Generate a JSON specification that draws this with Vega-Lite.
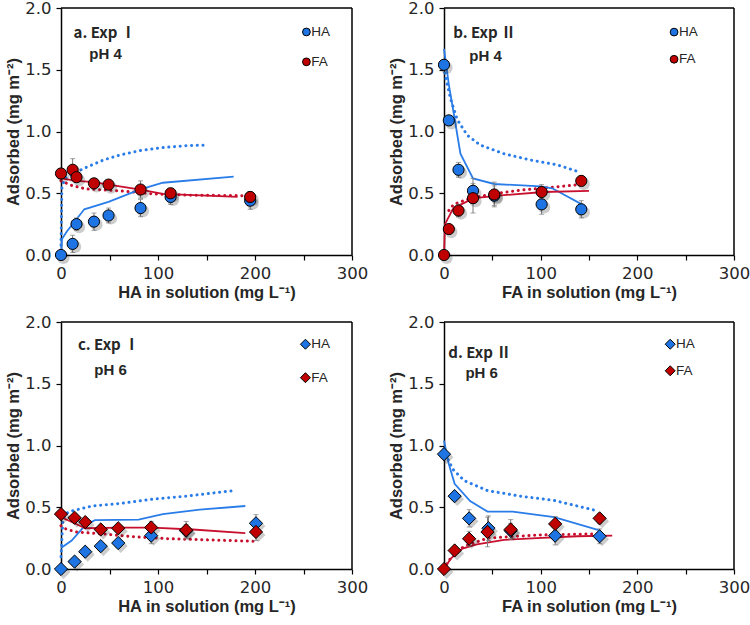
{
  "$schema": "https://vega.github.io/schema/vega-lite/v6.json",
  "datasets": {
    "pts": [
      {"p":"a","s":"HA","x":0,"y":0,"e":0},
      {"p":"a","s":"HA","x":12,"y":0.09,"e":0.07},
      {"p":"a","s":"HA","x":16,"y":0.25,"e":0.05},
      {"p":"a","s":"HA","x":34,"y":0.27,"e":0.07},
      {"p":"a","s":"HA","x":49,"y":0.32,"e":0.06},
      {"p":"a","s":"HA","x":82,"y":0.38,"e":0.07},
      {"p":"a","s":"HA","x":113,"y":0.47,"e":0.06},
      {"p":"a","s":"HA","x":195,"y":0.44,"e":0.07},
      {"p":"a","s":"FA","x":0,"y":0.66,"e":0.04},
      {"p":"a","s":"FA","x":12,"y":0.69,"e":0.09},
      {"p":"a","s":"FA","x":16,"y":0.63,"e":0.04},
      {"p":"a","s":"FA","x":34,"y":0.58,"e":0.03},
      {"p":"a","s":"FA","x":49,"y":0.57,"e":0.03},
      {"p":"a","s":"FA","x":82,"y":0.53,"e":0.07},
      {"p":"a","s":"FA","x":113,"y":0.50,"e":0.04},
      {"p":"a","s":"FA","x":195,"y":0.47,"e":0.04},
      {"p":"b","s":"HA","x":0,"y":1.54,"e":0.03},
      {"p":"b","s":"HA","x":5,"y":1.09,"e":0.03},
      {"p":"b","s":"HA","x":15,"y":0.69,"e":0.06},
      {"p":"b","s":"HA","x":30,"y":0.52,"e":0.1},
      {"p":"b","s":"HA","x":52,"y":0.48,"e":0.08},
      {"p":"b","s":"HA","x":101,"y":0.41,"e":0.08},
      {"p":"b","s":"HA","x":142,"y":0.37,"e":0.07},
      {"p":"b","s":"FA","x":0,"y":0,"e":0},
      {"p":"b","s":"FA","x":5,"y":0.21,"e":0.03},
      {"p":"b","s":"FA","x":15,"y":0.36,"e":0.05},
      {"p":"b","s":"FA","x":30,"y":0.46,"e":0.12},
      {"p":"b","s":"FA","x":52,"y":0.49,"e":0.1},
      {"p":"b","s":"FA","x":101,"y":0.51,"e":0.06},
      {"p":"b","s":"FA","x":142,"y":0.60,"e":0.04},
      {"p":"c","s":"HA","x":0,"y":0,"e":0},
      {"p":"c","s":"HA","x":14,"y":0.06,"e":0.02},
      {"p":"c","s":"HA","x":25,"y":0.14,"e":0.03},
      {"p":"c","s":"HA","x":41,"y":0.185,"e":0.03},
      {"p":"c","s":"HA","x":59,"y":0.21,"e":0.03},
      {"p":"c","s":"HA","x":93,"y":0.27,"e":0.065},
      {"p":"c","s":"HA","x":129,"y":0.31,"e":0.05},
      {"p":"c","s":"HA","x":201,"y":0.37,"e":0.07},
      {"p":"c","s":"FA","x":0,"y":0.445,"e":0.03},
      {"p":"c","s":"FA","x":14,"y":0.415,"e":0.03},
      {"p":"c","s":"FA","x":25,"y":0.38,"e":0.03},
      {"p":"c","s":"FA","x":41,"y":0.32,"e":0.03},
      {"p":"c","s":"FA","x":59,"y":0.33,"e":0.03},
      {"p":"c","s":"FA","x":93,"y":0.336,"e":0.05},
      {"p":"c","s":"FA","x":129,"y":0.315,"e":0.07},
      {"p":"c","s":"FA","x":201,"y":0.30,"e":0.07},
      {"p":"d","s":"HA","x":0,"y":0.93,"e":0.03},
      {"p":"d","s":"HA","x":11,"y":0.59,"e":0.03},
      {"p":"d","s":"HA","x":26,"y":0.41,"e":0.07},
      {"p":"d","s":"HA","x":46,"y":0.33,"e":0.1},
      {"p":"d","s":"HA","x":69,"y":0.31,"e":0.06},
      {"p":"d","s":"HA","x":115,"y":0.27,"e":0.075},
      {"p":"d","s":"HA","x":161,"y":0.265,"e":0.06},
      {"p":"d","s":"FA","x":0,"y":0,"e":0},
      {"p":"d","s":"FA","x":11,"y":0.15,"e":0.03},
      {"p":"d","s":"FA","x":26,"y":0.245,"e":0.06},
      {"p":"d","s":"FA","x":45,"y":0.30,"e":0.12},
      {"p":"d","s":"FA","x":69,"y":0.32,"e":0.08},
      {"p":"d","s":"FA","x":115,"y":0.365,"e":0.06},
      {"p":"d","s":"FA","x":161,"y":0.41,"e":0.04}
    ],
    "lines": [
      {"p":"a","s":"HA","k":"solid","x":0,"y":0},
      {"p":"a","s":"HA","k":"solid","x":1,"y":0.13},
      {"p":"a","s":"HA","k":"solid","x":6,"y":0.19},
      {"p":"a","s":"HA","k":"solid","x":16,"y":0.29},
      {"p":"a","s":"HA","k":"solid","x":24,"y":0.37},
      {"p":"a","s":"HA","k":"solid","x":49,"y":0.43},
      {"p":"a","s":"HA","k":"solid","x":81,"y":0.53},
      {"p":"a","s":"HA","k":"solid","x":105,"y":0.585},
      {"p":"a","s":"HA","k":"solid","x":178,"y":0.635},
      {"p":"a","s":"HA","k":"dotted","x":0,"y":0.08},
      {"p":"a","s":"HA","k":"dotted","x":1,"y":0.55},
      {"p":"a","s":"HA","k":"dotted","x":4,"y":0.62},
      {"p":"a","s":"HA","k":"dotted","x":23,"y":0.70},
      {"p":"a","s":"HA","k":"dotted","x":44,"y":0.77},
      {"p":"a","s":"HA","k":"dotted","x":61,"y":0.81},
      {"p":"a","s":"HA","k":"dotted","x":81,"y":0.845},
      {"p":"a","s":"HA","k":"dotted","x":105,"y":0.87},
      {"p":"a","s":"HA","k":"dotted","x":129,"y":0.885},
      {"p":"a","s":"HA","k":"dotted","x":150,"y":0.89},
      {"p":"a","s":"FA","k":"solid","x":0,"y":0.62},
      {"p":"a","s":"FA","k":"solid","x":16,"y":0.60},
      {"p":"a","s":"FA","k":"solid","x":34,"y":0.59},
      {"p":"a","s":"FA","k":"solid","x":49,"y":0.57},
      {"p":"a","s":"FA","k":"solid","x":82,"y":0.53},
      {"p":"a","s":"FA","k":"solid","x":105,"y":0.495},
      {"p":"a","s":"FA","k":"solid","x":182,"y":0.47},
      {"p":"a","s":"FA","k":"dotted","x":0,"y":0.60},
      {"p":"a","s":"FA","k":"dotted","x":12,"y":0.56},
      {"p":"a","s":"FA","k":"dotted","x":26,"y":0.535},
      {"p":"a","s":"FA","k":"dotted","x":60,"y":0.52},
      {"p":"a","s":"FA","k":"dotted","x":95,"y":0.495},
      {"p":"a","s":"FA","k":"dotted","x":130,"y":0.485},
      {"p":"a","s":"FA","k":"dotted","x":194,"y":0.48},
      {"p":"b","s":"HA","k":"solid","x":0,"y":1.67},
      {"p":"b","s":"HA","k":"solid","x":5,"y":1.38},
      {"p":"b","s":"HA","k":"solid","x":10,"y":1.15},
      {"p":"b","s":"HA","k":"solid","x":17,"y":0.82},
      {"p":"b","s":"HA","k":"solid","x":30,"y":0.62},
      {"p":"b","s":"HA","k":"solid","x":52,"y":0.575},
      {"p":"b","s":"HA","k":"solid","x":100,"y":0.555},
      {"p":"b","s":"HA","k":"solid","x":112,"y":0.54},
      {"p":"b","s":"HA","k":"solid","x":145,"y":0.40},
      {"p":"b","s":"HA","k":"dotted","x":0,"y":1.52},
      {"p":"b","s":"HA","k":"dotted","x":1.4,"y":1.45},
      {"p":"b","s":"HA","k":"dotted","x":6.6,"y":1.27},
      {"p":"b","s":"HA","k":"dotted","x":13.5,"y":1.10},
      {"p":"b","s":"HA","k":"dotted","x":24,"y":0.97},
      {"p":"b","s":"HA","k":"dotted","x":37.5,"y":0.89},
      {"p":"b","s":"HA","k":"dotted","x":62,"y":0.82},
      {"p":"b","s":"HA","k":"dotted","x":89,"y":0.77},
      {"p":"b","s":"HA","k":"dotted","x":117,"y":0.73},
      {"p":"b","s":"HA","k":"dotted","x":141,"y":0.67},
      {"p":"b","s":"FA","k":"solid","x":0,"y":0},
      {"p":"b","s":"FA","k":"solid","x":1,"y":0.25},
      {"p":"b","s":"FA","k":"solid","x":9,"y":0.37},
      {"p":"b","s":"FA","k":"solid","x":15,"y":0.40},
      {"p":"b","s":"FA","k":"solid","x":31,"y":0.46},
      {"p":"b","s":"FA","k":"solid","x":62,"y":0.485},
      {"p":"b","s":"FA","k":"solid","x":103,"y":0.51},
      {"p":"b","s":"FA","k":"solid","x":150,"y":0.52},
      {"p":"b","s":"FA","k":"dotted","x":5,"y":0.36},
      {"p":"b","s":"FA","k":"dotted","x":10,"y":0.41},
      {"p":"b","s":"FA","k":"dotted","x":24,"y":0.45},
      {"p":"b","s":"FA","k":"dotted","x":47,"y":0.49},
      {"p":"b","s":"FA","k":"dotted","x":79,"y":0.525},
      {"p":"b","s":"FA","k":"dotted","x":107,"y":0.545},
      {"p":"b","s":"FA","k":"dotted","x":140,"y":0.57},
      {"p":"c","s":"HA","k":"solid","x":0,"y":0.17},
      {"p":"c","s":"HA","k":"solid","x":11,"y":0.23},
      {"p":"c","s":"HA","k":"solid","x":25,"y":0.355},
      {"p":"c","s":"HA","k":"solid","x":35,"y":0.395},
      {"p":"c","s":"HA","k":"solid","x":80,"y":0.40},
      {"p":"c","s":"HA","k":"solid","x":105,"y":0.445},
      {"p":"c","s":"HA","k":"solid","x":143,"y":0.48},
      {"p":"c","s":"HA","k":"solid","x":190,"y":0.51},
      {"p":"c","s":"HA","k":"dotted","x":0,"y":0.1},
      {"p":"c","s":"HA","k":"dotted","x":2,"y":0.40},
      {"p":"c","s":"HA","k":"dotted","x":5,"y":0.45},
      {"p":"c","s":"HA","k":"dotted","x":11,"y":0.47},
      {"p":"c","s":"HA","k":"dotted","x":32,"y":0.51},
      {"p":"c","s":"HA","k":"dotted","x":60,"y":0.53},
      {"p":"c","s":"HA","k":"dotted","x":94,"y":0.565},
      {"p":"c","s":"HA","k":"dotted","x":129,"y":0.59},
      {"p":"c","s":"HA","k":"dotted","x":178,"y":0.635},
      {"p":"c","s":"FA","k":"solid","x":0,"y":0.42},
      {"p":"c","s":"FA","k":"solid","x":14,"y":0.37},
      {"p":"c","s":"FA","k":"solid","x":25,"y":0.33},
      {"p":"c","s":"FA","k":"solid","x":60,"y":0.335},
      {"p":"c","s":"FA","k":"solid","x":94,"y":0.335},
      {"p":"c","s":"FA","k":"solid","x":136,"y":0.32},
      {"p":"c","s":"FA","k":"solid","x":190,"y":0.29},
      {"p":"c","s":"FA","k":"dotted","x":0,"y":0.35},
      {"p":"c","s":"FA","k":"dotted","x":3,"y":0.33},
      {"p":"c","s":"FA","k":"dotted","x":15,"y":0.30},
      {"p":"c","s":"FA","k":"dotted","x":42,"y":0.285},
      {"p":"c","s":"FA","k":"dotted","x":77,"y":0.26},
      {"p":"c","s":"FA","k":"dotted","x":112,"y":0.245},
      {"p":"c","s":"FA","k":"dotted","x":146,"y":0.237},
      {"p":"c","s":"FA","k":"dotted","x":198,"y":0.225},
      {"p":"d","s":"HA","k":"solid","x":0,"y":1.04},
      {"p":"d","s":"HA","k":"solid","x":5,"y":0.85},
      {"p":"d","s":"HA","k":"solid","x":11,"y":0.69},
      {"p":"d","s":"HA","k":"solid","x":27,"y":0.55},
      {"p":"d","s":"HA","k":"solid","x":45,"y":0.465},
      {"p":"d","s":"HA","k":"solid","x":71,"y":0.465},
      {"p":"d","s":"HA","k":"solid","x":114,"y":0.42},
      {"p":"d","s":"HA","k":"solid","x":160,"y":0.315},
      {"p":"d","s":"HA","k":"dotted","x":0,"y":0.97},
      {"p":"d","s":"HA","k":"dotted","x":5,"y":0.87},
      {"p":"d","s":"HA","k":"dotted","x":10,"y":0.80},
      {"p":"d","s":"HA","k":"dotted","x":21,"y":0.715},
      {"p":"d","s":"HA","k":"dotted","x":45,"y":0.635},
      {"p":"d","s":"HA","k":"dotted","x":79,"y":0.59},
      {"p":"d","s":"HA","k":"dotted","x":114,"y":0.555},
      {"p":"d","s":"HA","k":"dotted","x":159,"y":0.47},
      {"p":"d","s":"FA","k":"solid","x":0,"y":0},
      {"p":"d","s":"FA","k":"solid","x":7,"y":0.085},
      {"p":"d","s":"FA","k":"solid","x":19,"y":0.165},
      {"p":"d","s":"FA","k":"solid","x":34,"y":0.20},
      {"p":"d","s":"FA","k":"solid","x":62,"y":0.236},
      {"p":"d","s":"FA","k":"solid","x":96,"y":0.25},
      {"p":"d","s":"FA","k":"solid","x":138,"y":0.265},
      {"p":"d","s":"FA","k":"solid","x":174,"y":0.27},
      {"p":"d","s":"FA","k":"dotted","x":0,"y":0},
      {"p":"d","s":"FA","k":"dotted","x":5,"y":0.07},
      {"p":"d","s":"FA","k":"dotted","x":20,"y":0.18},
      {"p":"d","s":"FA","k":"dotted","x":45,"y":0.25},
      {"p":"d","s":"FA","k":"dotted","x":97,"y":0.275},
      {"p":"d","s":"FA","k":"dotted","x":160,"y":0.285}
    ],
    "key": [{"k": 1}]
  },
  "columns": 2,
  "bounds": "flush",
  "spacing": {"row": 67, "column": 92},
  "padding": {"left": 5, "top": 0, "right": 0, "bottom": 3},
  "resolve": {"scale": {"x": "independent", "y": "independent", "fill": "independent", "stroke": "independent"}},
  "concat": [
    {
      "width": 291, "height": 247,
      "layer": [
        {"data": {"name": "lines"}, "transform": [{"filter": "datum.p === 'a' && datum.k === 'dotted'"}],
         "mark": {"type": "line", "strokeWidth": 3, "strokeDash": [0.1, 5.6], "strokeCap": "round"},
         "encoding": {"x": {"field": "x", "type": "quantitative"}, "y": {"field": "y", "type": "quantitative"},
           "stroke": {"field": "s", "type": "nominal", "scale": {"domain": ["HA", "FA"], "range": ["#2a7de8", "#c8102e"]}, "legend": null}}},
        {"data": {"name": "lines"}, "transform": [{"filter": "datum.p === 'a' && datum.k === 'solid'"}],
         "mark": {"type": "line", "strokeWidth": 1.8},
         "encoding": {"x": {"field": "x", "type": "quantitative"}, "y": {"field": "y", "type": "quantitative"},
           "stroke": {"field": "s", "type": "nominal", "scale": {"domain": ["HA", "FA"], "range": ["#2a7de8", "#c8102e"]}, "legend": null}}},
        {"data": {"name": "pts"}, "transform": [{"filter": "datum.p === 'a'"}],
         "mark": {"type": "errorbar", "ticks": true, "color": "#7a7a7a", "thickness": 1},
         "encoding": {"x": {"field": "x", "type": "quantitative", "title": "HA in solution (mg L⁻¹)"}, "y": {"field": "y", "type": "quantitative", "title": "Adsorbed (mg m⁻²)"}, "yError": {"field": "e"}}},
        {"data": {"name": "pts"}, "transform": [{"filter": "datum.p === 'a'"}],
         "mark": {"type": "point", "filled": true, "shape": "circle", "size": 150, "color": "#000000", "opacity": 0.2, "xOffset": 2.5, "yOffset": 3},
         "encoding": {"x": {"field": "x", "type": "quantitative"}, "y": {"field": "y", "type": "quantitative"}}},
        {"data": {"name": "pts"}, "transform": [{"filter": "datum.p === 'a'"}],
         "mark": {"type": "point", "filled": true, "shape": "circle", "size": 125, "stroke": "black", "strokeWidth": 1, "opacity": 1},
         "encoding": {
           "x": {"field": "x", "type": "quantitative", "scale": {"domain": [0, 300], "nice": false},
                 "axis": {"title": "HA in solution (mg L⁻¹)", "values": [0, 50, 100, 150, 200, 250, 300], "labelExpr": "datum.value % 100 === 0 ? datum.label : ''"}},
           "y": {"field": "y", "type": "quantitative", "scale": {"domain": [0, 2], "nice": false},
                 "axis": {"title": "Adsorbed (mg m⁻²)", "values": [0, 0.25, 0.5, 0.75, 1, 1.25, 1.5, 1.75, 2], "labelExpr": "(datum.value * 2) % 1 === 0 ? format(datum.value, '.1f') : ''"}},
           "fill": {"field": "s", "type": "nominal", "scale": {"domain": ["HA", "FA"], "range": ["#1f74e3", "#c00000"]}, "legend": null}}},
        {"data": {"name": "key"}, "mark": {"type": "rule", "color": "black", "strokeWidth": 1.5}, "encoding": {"x": {"datum": 300, "type": "quantitative"}}},
        {"data": {"name": "key"}, "mark": {"type": "rule", "color": "black", "strokeWidth": 1.5}, "encoding": {"y": {"datum": 2, "type": "quantitative"}}},
        {"data": {"name": "key"}, "mark": {"type": "text", "text": "a. Exp Ⅰ", "align": "center", "baseline": "middle", "fontSize": 15, "fontWeight": "bold", "font": "Noto Sans CJK SC", "color": "#262626"},
         "encoding": {"x": {"datum": 45, "type": "quantitative"}, "y": {"datum": 1.80, "type": "quantitative"}}},
        {"data": {"name": "key"}, "mark": {"type": "text", "text": "pH 4", "align": "center", "baseline": "middle", "fontSize": 15, "fontWeight": "bold", "color": "#262626"},
         "encoding": {"x": {"datum": 46, "type": "quantitative"}, "y": {"datum": 1.624, "type": "quantitative"}}},
        {"data": {"name": "key"}, "mark": {"type": "point", "filled": true, "shape": "circle", "size": 60, "fill": "#1f74e3", "stroke": "black", "strokeWidth": 1, "opacity": 1},
         "encoding": {"x": {"datum": 253, "type": "quantitative"}, "y": {"datum": 1.806, "type": "quantitative"}}},
        {"data": {"name": "key"}, "mark": {"type": "text", "text": "HA", "align": "left", "baseline": "middle", "fontSize": 13.5, "color": "#262626"},
         "encoding": {"x": {"datum": 258, "type": "quantitative"}, "y": {"datum": 1.806, "type": "quantitative"}}},
        {"data": {"name": "key"}, "mark": {"type": "point", "filled": true, "shape": "circle", "size": 60, "fill": "#c00000", "stroke": "black", "strokeWidth": 1, "opacity": 1},
         "encoding": {"x": {"datum": 253, "type": "quantitative"}, "y": {"datum": 1.564, "type": "quantitative"}}},
        {"data": {"name": "key"}, "mark": {"type": "text", "text": "FA", "align": "left", "baseline": "middle", "fontSize": 13.5, "color": "#262626"},
         "encoding": {"x": {"datum": 258, "type": "quantitative"}, "y": {"datum": 1.564, "type": "quantitative"}}}
      ]
    },
    {
      "width": 290, "height": 247,
      "layer": [
        {"data": {"name": "lines"}, "transform": [{"filter": "datum.p === 'b' && datum.k === 'dotted'"}],
         "mark": {"type": "line", "strokeWidth": 3, "strokeDash": [0.1, 5.6], "strokeCap": "round"},
         "encoding": {"x": {"field": "x", "type": "quantitative"}, "y": {"field": "y", "type": "quantitative"},
           "stroke": {"field": "s", "type": "nominal", "scale": {"domain": ["HA", "FA"], "range": ["#2a7de8", "#c8102e"]}, "legend": null}}},
        {"data": {"name": "lines"}, "transform": [{"filter": "datum.p === 'b' && datum.k === 'solid'"}],
         "mark": {"type": "line", "strokeWidth": 1.8},
         "encoding": {"x": {"field": "x", "type": "quantitative"}, "y": {"field": "y", "type": "quantitative"},
           "stroke": {"field": "s", "type": "nominal", "scale": {"domain": ["HA", "FA"], "range": ["#2a7de8", "#c8102e"]}, "legend": null}}},
        {"data": {"name": "pts"}, "transform": [{"filter": "datum.p === 'b'"}],
         "mark": {"type": "errorbar", "ticks": true, "color": "#7a7a7a", "thickness": 1},
         "encoding": {"x": {"field": "x", "type": "quantitative", "title": "FA in solution (mg L⁻¹)"}, "y": {"field": "y", "type": "quantitative", "title": "Adsorbed (mg m⁻²)"}, "yError": {"field": "e"}}},
        {"data": {"name": "pts"}, "transform": [{"filter": "datum.p === 'b'"}],
         "mark": {"type": "point", "filled": true, "shape": "circle", "size": 150, "color": "#000000", "opacity": 0.2, "xOffset": 2.5, "yOffset": 3},
         "encoding": {"x": {"field": "x", "type": "quantitative"}, "y": {"field": "y", "type": "quantitative"}}},
        {"data": {"name": "pts"}, "transform": [{"filter": "datum.p === 'b'"}],
         "mark": {"type": "point", "filled": true, "shape": "circle", "size": 125, "stroke": "black", "strokeWidth": 1, "opacity": 1},
         "encoding": {
           "x": {"field": "x", "type": "quantitative", "scale": {"domain": [0, 300], "nice": false},
                 "axis": {"title": "FA in solution (mg L⁻¹)", "values": [0, 50, 100, 150, 200, 250, 300], "labelExpr": "datum.value % 100 === 0 ? datum.label : ''"}},
           "y": {"field": "y", "type": "quantitative", "scale": {"domain": [0, 2], "nice": false},
                 "axis": {"title": "Adsorbed (mg m⁻²)", "values": [0, 0.25, 0.5, 0.75, 1, 1.25, 1.5, 1.75, 2], "labelExpr": "(datum.value * 2) % 1 === 0 ? format(datum.value, '.1f') : ''"}},
           "fill": {"field": "s", "type": "nominal", "scale": {"domain": ["HA", "FA"], "range": ["#1f74e3", "#c00000"]}, "legend": null}}},
        {"data": {"name": "key"}, "mark": {"type": "rule", "color": "black", "strokeWidth": 1.5}, "encoding": {"x": {"datum": 300, "type": "quantitative"}}},
        {"data": {"name": "key"}, "mark": {"type": "rule", "color": "black", "strokeWidth": 1.5}, "encoding": {"y": {"datum": 2, "type": "quantitative"}}},
        {"data": {"name": "key"}, "mark": {"type": "text", "text": "b. Exp Ⅱ", "align": "center", "baseline": "middle", "fontSize": 15, "fontWeight": "bold", "font": "Noto Sans CJK SC", "color": "#262626"},
         "encoding": {"x": {"datum": 42, "type": "quantitative"}, "y": {"datum": 1.80, "type": "quantitative"}}},
        {"data": {"name": "key"}, "mark": {"type": "text", "text": "pH 4", "align": "center", "baseline": "middle", "fontSize": 15, "fontWeight": "bold", "color": "#262626"},
         "encoding": {"x": {"datum": 43, "type": "quantitative"}, "y": {"datum": 1.61, "type": "quantitative"}}},
        {"data": {"name": "key"}, "mark": {"type": "point", "filled": true, "shape": "circle", "size": 60, "fill": "#1f74e3", "stroke": "black", "strokeWidth": 1, "opacity": 1},
         "encoding": {"x": {"datum": 238, "type": "quantitative"}, "y": {"datum": 1.805, "type": "quantitative"}}},
        {"data": {"name": "key"}, "mark": {"type": "text", "text": "HA", "align": "left", "baseline": "middle", "fontSize": 13.5, "color": "#262626"},
         "encoding": {"x": {"datum": 243, "type": "quantitative"}, "y": {"datum": 1.805, "type": "quantitative"}}},
        {"data": {"name": "key"}, "mark": {"type": "point", "filled": true, "shape": "circle", "size": 60, "fill": "#c00000", "stroke": "black", "strokeWidth": 1, "opacity": 1},
         "encoding": {"x": {"datum": 238, "type": "quantitative"}, "y": {"datum": 1.585, "type": "quantitative"}}},
        {"data": {"name": "key"}, "mark": {"type": "text", "text": "FA", "align": "left", "baseline": "middle", "fontSize": 13.5, "color": "#262626"},
         "encoding": {"x": {"datum": 243, "type": "quantitative"}, "y": {"datum": 1.585, "type": "quantitative"}}}
      ]
    },
    {
      "width": 291, "height": 247,
      "layer": [
        {"data": {"name": "lines"}, "transform": [{"filter": "datum.p === 'c' && datum.k === 'dotted'"}],
         "mark": {"type": "line", "strokeWidth": 3, "strokeDash": [0.1, 5.6], "strokeCap": "round"},
         "encoding": {"x": {"field": "x", "type": "quantitative"}, "y": {"field": "y", "type": "quantitative"},
           "stroke": {"field": "s", "type": "nominal", "scale": {"domain": ["HA", "FA"], "range": ["#2a7de8", "#c8102e"]}, "legend": null}}},
        {"data": {"name": "lines"}, "transform": [{"filter": "datum.p === 'c' && datum.k === 'solid'"}],
         "mark": {"type": "line", "strokeWidth": 1.8},
         "encoding": {"x": {"field": "x", "type": "quantitative"}, "y": {"field": "y", "type": "quantitative"},
           "stroke": {"field": "s", "type": "nominal", "scale": {"domain": ["HA", "FA"], "range": ["#2a7de8", "#c8102e"]}, "legend": null}}},
        {"data": {"name": "pts"}, "transform": [{"filter": "datum.p === 'c'"}],
         "mark": {"type": "errorbar", "ticks": true, "color": "#7a7a7a", "thickness": 1},
         "encoding": {"x": {"field": "x", "type": "quantitative", "title": "HA in solution (mg L⁻¹)"}, "y": {"field": "y", "type": "quantitative", "title": "Adsorbed (mg m⁻²)"}, "yError": {"field": "e"}}},
        {"data": {"name": "pts"}, "transform": [{"filter": "datum.p === 'c'"}],
         "mark": {"type": "point", "filled": true, "shape": "diamond", "size": 195, "color": "#000000", "opacity": 0.2, "xOffset": 2.5, "yOffset": 3},
         "encoding": {"x": {"field": "x", "type": "quantitative"}, "y": {"field": "y", "type": "quantitative"}}},
        {"data": {"name": "pts"}, "transform": [{"filter": "datum.p === 'c'"}],
         "mark": {"type": "point", "filled": true, "shape": "diamond", "size": 175, "stroke": "black", "strokeWidth": 1, "opacity": 1},
         "encoding": {
           "x": {"field": "x", "type": "quantitative", "scale": {"domain": [0, 300], "nice": false},
                 "axis": {"title": "HA in solution (mg L⁻¹)", "values": [0, 50, 100, 150, 200, 250, 300], "labelExpr": "datum.value % 100 === 0 ? datum.label : ''"}},
           "y": {"field": "y", "type": "quantitative", "scale": {"domain": [0, 2], "nice": false},
                 "axis": {"title": "Adsorbed (mg m⁻²)", "values": [0, 0.25, 0.5, 0.75, 1, 1.25, 1.5, 1.75, 2], "labelExpr": "(datum.value * 2) % 1 === 0 ? format(datum.value, '.1f') : ''"}},
           "fill": {"field": "s", "type": "nominal", "scale": {"domain": ["HA", "FA"], "range": ["#1f74e3", "#c00000"]}, "legend": null}}},
        {"data": {"name": "key"}, "mark": {"type": "rule", "color": "black", "strokeWidth": 1.5}, "encoding": {"x": {"datum": 300, "type": "quantitative"}}},
        {"data": {"name": "key"}, "mark": {"type": "rule", "color": "black", "strokeWidth": 1.5}, "encoding": {"y": {"datum": 2, "type": "quantitative"}}},
        {"data": {"name": "key"}, "mark": {"type": "text", "text": "c. Exp Ⅰ", "align": "center", "baseline": "middle", "fontSize": 15, "fontWeight": "bold", "font": "Noto Sans CJK SC", "color": "#262626"},
         "encoding": {"x": {"datum": 49, "type": "quantitative"}, "y": {"datum": 1.814, "type": "quantitative"}}},
        {"data": {"name": "key"}, "mark": {"type": "text", "text": "pH 6", "align": "center", "baseline": "middle", "fontSize": 15, "fontWeight": "bold", "color": "#262626"},
         "encoding": {"x": {"datum": 51, "type": "quantitative"}, "y": {"datum": 1.614, "type": "quantitative"}}},
        {"data": {"name": "key"}, "mark": {"type": "point", "filled": true, "shape": "diamond", "size": 100, "fill": "#1f74e3", "stroke": "black", "strokeWidth": 1, "opacity": 1},
         "encoding": {"x": {"datum": 252, "type": "quantitative"}, "y": {"datum": 1.82, "type": "quantitative"}}},
        {"data": {"name": "key"}, "mark": {"type": "text", "text": "HA", "align": "left", "baseline": "middle", "fontSize": 13.5, "color": "#262626"},
         "encoding": {"x": {"datum": 258, "type": "quantitative"}, "y": {"datum": 1.82, "type": "quantitative"}}},
        {"data": {"name": "key"}, "mark": {"type": "point", "filled": true, "shape": "diamond", "size": 100, "fill": "#c00000", "stroke": "black", "strokeWidth": 1, "opacity": 1},
         "encoding": {"x": {"datum": 252, "type": "quantitative"}, "y": {"datum": 1.549, "type": "quantitative"}}},
        {"data": {"name": "key"}, "mark": {"type": "text", "text": "FA", "align": "left", "baseline": "middle", "fontSize": 13.5, "color": "#262626"},
         "encoding": {"x": {"datum": 258, "type": "quantitative"}, "y": {"datum": 1.549, "type": "quantitative"}}}
      ]
    },
    {
      "width": 290, "height": 247,
      "layer": [
        {"data": {"name": "lines"}, "transform": [{"filter": "datum.p === 'd' && datum.k === 'dotted'"}],
         "mark": {"type": "line", "strokeWidth": 3, "strokeDash": [0.1, 5.6], "strokeCap": "round"},
         "encoding": {"x": {"field": "x", "type": "quantitative"}, "y": {"field": "y", "type": "quantitative"},
           "stroke": {"field": "s", "type": "nominal", "scale": {"domain": ["HA", "FA"], "range": ["#2a7de8", "#c8102e"]}, "legend": null}}},
        {"data": {"name": "lines"}, "transform": [{"filter": "datum.p === 'd' && datum.k === 'solid'"}],
         "mark": {"type": "line", "strokeWidth": 1.8},
         "encoding": {"x": {"field": "x", "type": "quantitative"}, "y": {"field": "y", "type": "quantitative"},
           "stroke": {"field": "s", "type": "nominal", "scale": {"domain": ["HA", "FA"], "range": ["#2a7de8", "#c8102e"]}, "legend": null}}},
        {"data": {"name": "pts"}, "transform": [{"filter": "datum.p === 'd'"}],
         "mark": {"type": "errorbar", "ticks": true, "color": "#7a7a7a", "thickness": 1},
         "encoding": {"x": {"field": "x", "type": "quantitative", "title": "FA in solution (mg L⁻¹)"}, "y": {"field": "y", "type": "quantitative", "title": "Adsorbed (mg m⁻²)"}, "yError": {"field": "e"}}},
        {"data": {"name": "pts"}, "transform": [{"filter": "datum.p === 'd'"}],
         "mark": {"type": "point", "filled": true, "shape": "diamond", "size": 195, "color": "#000000", "opacity": 0.2, "xOffset": 2.5, "yOffset": 3},
         "encoding": {"x": {"field": "x", "type": "quantitative"}, "y": {"field": "y", "type": "quantitative"}}},
        {"data": {"name": "pts"}, "transform": [{"filter": "datum.p === 'd'"}],
         "mark": {"type": "point", "filled": true, "shape": "diamond", "size": 175, "stroke": "black", "strokeWidth": 1, "opacity": 1},
         "encoding": {
           "x": {"field": "x", "type": "quantitative", "scale": {"domain": [0, 300], "nice": false},
                 "axis": {"title": "FA in solution (mg L⁻¹)", "values": [0, 50, 100, 150, 200, 250, 300], "labelExpr": "datum.value % 100 === 0 ? datum.label : ''"}},
           "y": {"field": "y", "type": "quantitative", "scale": {"domain": [0, 2], "nice": false},
                 "axis": {"title": "Adsorbed (mg m⁻²)", "values": [0, 0.25, 0.5, 0.75, 1, 1.25, 1.5, 1.75, 2], "labelExpr": "(datum.value * 2) % 1 === 0 ? format(datum.value, '.1f') : ''"}},
           "fill": {"field": "s", "type": "nominal", "scale": {"domain": ["HA", "FA"], "range": ["#1f74e3", "#c00000"]}, "legend": null}}},
        {"data": {"name": "key"}, "mark": {"type": "rule", "color": "black", "strokeWidth": 1.5}, "encoding": {"x": {"datum": 300, "type": "quantitative"}}},
        {"data": {"name": "key"}, "mark": {"type": "rule", "color": "black", "strokeWidth": 1.5}, "encoding": {"y": {"datum": 2, "type": "quantitative"}}},
        {"data": {"name": "key"}, "mark": {"type": "text", "text": "d. Exp Ⅱ", "align": "center", "baseline": "middle", "fontSize": 15, "fontWeight": "bold", "font": "Noto Sans CJK SC", "color": "#262626"},
         "encoding": {"x": {"datum": 37, "type": "quantitative"}, "y": {"datum": 1.753, "type": "quantitative"}}},
        {"data": {"name": "key"}, "mark": {"type": "text", "text": "pH 6", "align": "center", "baseline": "middle", "fontSize": 15, "fontWeight": "bold", "color": "#262626"},
         "encoding": {"x": {"datum": 39, "type": "quantitative"}, "y": {"datum": 1.59, "type": "quantitative"}}},
        {"data": {"name": "key"}, "mark": {"type": "point", "filled": true, "shape": "diamond", "size": 100, "fill": "#1f74e3", "stroke": "black", "strokeWidth": 1, "opacity": 1},
         "encoding": {"x": {"datum": 234, "type": "quantitative"}, "y": {"datum": 1.82, "type": "quantitative"}}},
        {"data": {"name": "key"}, "mark": {"type": "text", "text": "HA", "align": "left", "baseline": "middle", "fontSize": 13.5, "color": "#262626"},
         "encoding": {"x": {"datum": 240, "type": "quantitative"}, "y": {"datum": 1.82, "type": "quantitative"}}},
        {"data": {"name": "key"}, "mark": {"type": "point", "filled": true, "shape": "diamond", "size": 100, "fill": "#c00000", "stroke": "black", "strokeWidth": 1, "opacity": 1},
         "encoding": {"x": {"datum": 234, "type": "quantitative"}, "y": {"datum": 1.605, "type": "quantitative"}}},
        {"data": {"name": "key"}, "mark": {"type": "text", "text": "FA", "align": "left", "baseline": "middle", "fontSize": 13.5, "color": "#262626"},
         "encoding": {"x": {"datum": 240, "type": "quantitative"}, "y": {"datum": 1.605, "type": "quantitative"}}}
      ]
    }
  ],
  "config": {
    "background": "white",
    "font": "Liberation Sans",
    "view": {"stroke": null},
    "text": {"font": "Liberation Sans"},
    "axis": {
      "grid": false,
      "domainColor": "black", "domainWidth": 1.5,
      "tickColor": "black", "tickWidth": 1.2, "tickSize": 5,
      "labelFont": "DejaVu Sans", "labelFontSize": 16.5, "labelColor": "#262626", "labelPadding": 5,
      "labelFlush": false, "labelOverlap": false,
      "titleFont": "Liberation Sans", "titleFontSize": 16.5, "titleFontWeight": "bold", "titleColor": "#262626"
    },
    "axisX": {"titlePadding": 3},
    "axisY": {"titlePadding": 3}
  }
}
